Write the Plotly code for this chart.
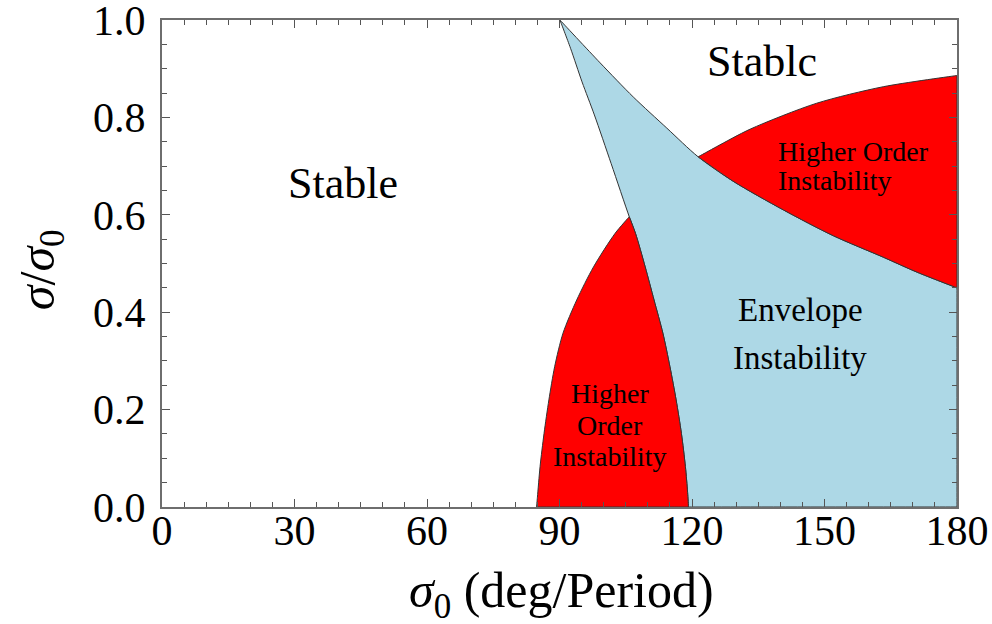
import plotly.graph_objects as go

# ---- data ----
# Left / lower boundary of the envelope-instability band (sigma0 [deg], sigma/sigma0)
env_left_x = [90.1, 92.5, 95.1, 97.9, 101.7, 105.8, 107.2, 109.4, 111.4, 113.4, 115.0, 116.4, 117.6, 118.5, 119.0, 119.2]
env_left_y = [1.0, 0.942, 0.873, 0.805, 0.705, 0.596, 0.562, 0.493, 0.425, 0.357, 0.288, 0.22, 0.151, 0.083, 0.030, 0.0]

# Upper boundary of the envelope-instability band
env_top_x = [90.1, 99.2, 106.7, 114.3, 121.4, 129.3, 140.7, 152.0, 163.3, 171.0, 180.0]
env_top_y = [1.0, 0.912, 0.842, 0.778, 0.719, 0.669, 0.610, 0.557, 0.513, 0.482, 0.450]

# Higher-order instability boundary, lower part (up to envelope band)
ho_low_x = [84.8, 85.0, 85.6, 86.5, 87.6, 88.9, 90.8, 93.9, 97.7, 102.6, 105.8]
ho_low_y = [0.0, 0.020, 0.083, 0.151, 0.22, 0.288, 0.357, 0.425, 0.493, 0.562, 0.596]

# Higher-order instability boundary, upper part (beyond envelope band)
ho_up_x = [121.4, 125.6, 133.2, 148.2, 163.3, 180.0]
ho_up_y = [0.719, 0.740, 0.776, 0.829, 0.863, 0.886]

x_ticks = [0, 30, 60, 90, 120, 150, 180]
y_ticks = [0.0, 0.2, 0.4, 0.6, 0.8, 1.0]
y_tick_labels = ["0.0", "0.2", "0.4", "0.6", "0.8", "1.0"]

X_MAX = 180.0

RED = "#FF0000"
BLUE = "#ADD8E6"
EDGE = "#333333"
FONT = "Liberation Serif"


def region(xs, ys, color):
    return go.Scatter(x=xs, y=ys, fill="toself", fillcolor=color, mode="lines",
                      line=dict(color=EDGE, width=1, shape="spline", smoothing=0.8, simplify=False),
                      hoverinfo="skip", showlegend=False)


fig = go.Figure()

# Envelope instability region (light blue); repeated vertices keep sharp corners
bx = ([env_left_x[0]] * 2 + env_left_x[1:-1] + [env_left_x[-1]] * 2 + [X_MAX] * 4
      + env_top_x[::-1][1:-1] + [env_top_x[0]] * 2)
by = ([env_left_y[0]] * 2 + env_left_y[1:-1] + [env_left_y[-1]] * 2
      + [0.0, 0.0, env_top_y[-1], env_top_y[-1]] + env_top_y[::-1][1:-1] + [env_top_y[0]] * 2)
fig.add_trace(region(bx, by, BLUE))

# Lower higher-order region (red)
i_peak = env_left_y.index(0.596)
lx = ([ho_low_x[0]] * 2 + ho_low_x[1:-1] + [ho_low_x[-1]] * 2 + env_left_x[i_peak + 1:-1]
      + [env_left_x[-1]] * 2 + [ho_low_x[0]] * 2)
ly = ([ho_low_y[0]] * 2 + ho_low_y[1:-1] + [ho_low_y[-1]] * 2 + env_left_y[i_peak + 1:-1]
      + [env_left_y[-1]] * 2 + [ho_low_y[0]] * 2)
fig.add_trace(region(lx, ly, RED))

# Upper higher-order region (red)
i_cross = env_top_x.index(121.4)
top_rev_x = env_top_x[i_cross:][::-1]
top_rev_y = env_top_y[i_cross:][::-1]
ux = [ho_up_x[0]] * 2 + ho_up_x[1:-1] + [X_MAX] * 4 + top_rev_x[1:-1] + [ho_up_x[0]] * 2
uy = ([ho_up_y[0]] * 2 + ho_up_y[1:-1] + [ho_up_y[-1], ho_up_y[-1], top_rev_y[0], top_rev_y[0]]
      + top_rev_y[1:-1] + [ho_up_y[0]] * 2)
fig.add_trace(region(ux, uy, RED))

# Region labels (one entry per text line)
labels = [
    dict(x=40.9, y=0.665, text="Stable", size=44, xanchor="center"),
    dict(x=135.8, y=0.914, text="Stablc", size=44, xanchor="center"),
    dict(x=139.1, y=0.7296, text="Higher Order", size=28, xanchor="left"),
    dict(x=139.1, y=0.671, text="Instability", size=28, xanchor="left"),
    dict(x=144.5, y=0.4045, text="Envelope", size=33, xanchor="center"),
    dict(x=144.5, y=0.306, text="Instability", size=33, xanchor="center"),
    dict(x=101.4, y=0.234, text="Higher", size=28, xanchor="center"),
    dict(x=101.4, y=0.168, text="Order", size=28, xanchor="center"),
    dict(x=101.4, y=0.103, text="Instability", size=28, xanchor="center"),
]
for lb in labels:
    fig.add_annotation(x=lb["x"], y=lb["y"], xref="x", yref="y", text=lb["text"], showarrow=False,
                       xanchor=lb["xanchor"], yanchor="middle",
                       font=dict(family=FONT, size=lb["size"], color="black"))

# Axis titles
fig.add_annotation(x=-0.153, y=0.487, xref="paper", yref="paper", showarrow=False,
                   xanchor="center", yanchor="middle",
                   text="<i>σ</i>/<i>σ</i><sub>0</sub>", textangle=-90,
                   font=dict(family=FONT, size=50, color="black"))
fig.add_annotation(x=0.502, y=-0.1786, xref="paper", yref="paper", showarrow=False,
                   xanchor="center", yanchor="middle",
                   text="<i>σ</i><sub>0</sub> (deg/Period)",
                   font=dict(family=FONT, size=50, color="black"))

axis_common = dict(showline=True, linecolor="#6e6e6e", linewidth=2, mirror="ticks",
                   ticks="inside", tickcolor="#555555", tickwidth=1.2, ticklen=8,
                   showgrid=False, zeroline=False, ticklabeloverflow="allow", automargin=False,
                   tickfont=dict(family=FONT, size=42, color="black"))

fig.update_xaxes(range=[0, 180], tickvals=x_ticks, ticktext=[str(v) for v in x_ticks],
                 minor=dict(dtick=5, tick0=0, ticks="inside", ticklen=5, tickcolor="#555555", tickwidth=1),
                 ticklabelstandoff=-14, **axis_common)
fig.update_yaxes(range=[0, 1], tickvals=y_ticks, ticktext=y_tick_labels,
                 minor=dict(dtick=0.05, tick0=0, ticks="inside", ticklen=5, tickcolor="#555555", tickwidth=1),
                 ticklabelstandoff=6, **axis_common)

fig.update_layout(width=992, height=624, margin=dict(l=162, r=35, t=20, b=117),
                  paper_bgcolor="white", plot_bgcolor="white", showlegend=False)

fig.write_html("out.html")
